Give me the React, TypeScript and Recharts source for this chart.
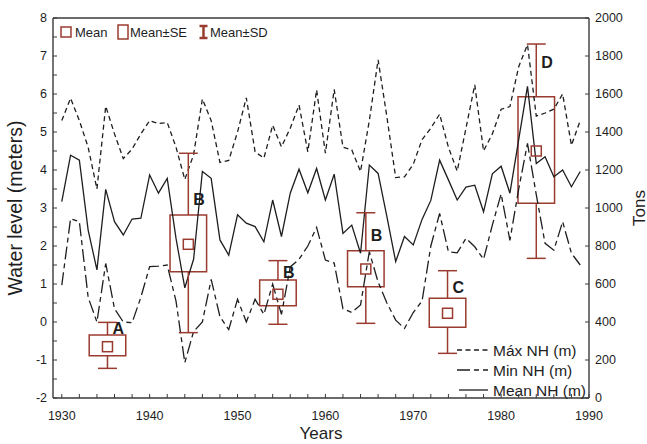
import React from 'react';
import {
  ComposedChart,
  Line,
  XAxis,
  YAxis,
  Scatter,
  ReferenceArea,
  ReferenceLine,
} from 'recharts';

const years = [
  1930, 1931, 1932, 1933, 1934, 1935, 1936, 1937, 1938, 1939,
  1940, 1941, 1942, 1943, 1944, 1945, 1946, 1947, 1948, 1949,
  1950, 1951, 1952, 1953, 1954, 1955, 1956, 1957, 1958, 1959,
  1960, 1961, 1962, 1963, 1964, 1965, 1966, 1967, 1968, 1969,
  1970, 1971, 1972, 1973, 1974, 1975, 1976, 1977, 1978, 1979,
  1980, 1981, 1982, 1983, 1984, 1985, 1986, 1987, 1988, 1989,
];

const maxNH = [
  5.3, 5.89, 5.3, 4.6, 3.5, 5.68, 4.95, 4.3, 4.55, 4.95,
  5.3, 5.22, 5.25, 4.6, 3.75, 4.4, 5.87, 5.3, 4.2, 4.25,
  5.0, 5.9, 4.48, 4.31, 5.18, 4.61, 5.1, 5.71, 4.48, 6.11,
  4.44, 6.12, 4.6, 4.53, 3.96, 5.3, 6.9, 5.4, 3.8, 3.82,
  4.15, 4.8, 5.1, 5.47, 4.6, 3.97, 5.1, 6.24, 4.5, 4.95,
  5.6, 5.67, 6.72, 7.3, 5.42, 5.5, 5.6, 6.0, 4.65, 5.3,
];

const minNH = [
  0.97, 2.72, 2.64, 0.65, 0.0, 1.54, 0.35, 0.0, -0.02, 0.65,
  1.46, 1.47, 1.5, 0.55, -1.07, -0.25, 0.0, 1.12, 0.14, -0.2,
  0.6, 0.0, 0.6, 0.2, 1.0, 0.2, 1.45, 1.65, 2.0, 2.49,
  1.63, 1.55, 0.35, 0.25, 0.45, 1.85, 1.05, 0.5, 0.05, -0.17,
  0.25, 0.55, 2.0, 2.86, 1.85, 1.82, 2.2, 1.98, 1.65, 2.55,
  3.37, 2.15, 3.5, 4.7, 3.35, 2.07, 1.89, 2.64, 1.81, 1.5,
];

const meanNH = [
  3.17, 4.39, 4.26, 2.42, 1.37, 3.49, 2.64, 2.29, 2.71, 2.73,
  3.87, 3.39, 3.78, 2.2, 0.9, 1.65, 3.96, 3.78, 2.16, 1.76,
  2.82, 2.6, 2.51, 2.11, 3.21, 2.25, 3.39, 4.02, 3.4, 4.04,
  3.21, 3.89, 2.33, 2.55, 1.81, 4.13, 3.91, 2.77, 1.59, 2.25,
  2.03, 2.7, 3.2, 4.26, 3.74, 3.21, 3.55, 3.6, 2.9, 3.9,
  4.1, 3.39, 4.8, 6.2, 4.17, 4.35, 3.82, 4.0, 3.56, 3.96,
];

// Box plots (Tons, right axis)
const boxYears = [1935.2, 1944.4, 1954.6, 1964.6, 1973.9, 1984.0];
const boxMean = [270, 809, 546, 679, 446, 1300];
const boxSELow = [223, 665, 486, 586, 372, 1025];
const boxSEHigh = [331, 963, 621, 775, 525, 1586];
const boxSDLow = [156, 344, 388, 393, 235, 735];
const boxSDHigh = [398, 1288, 723, 975, 670, 1863];
const groupLetters = ['A', 'B', 'B', 'B', 'C', 'D'];
const letterTons = [368, 1047, 665, 858, 584, 1768];

const xTicks = [
  1930, 1932, 1934, 1936, 1938, 1940, 1942, 1944, 1946, 1948, 1950,
  1952, 1954, 1956, 1958, 1960, 1962, 1964, 1966, 1968, 1970,
  1972, 1974, 1976, 1978, 1980, 1982, 1984, 1986, 1988, 1990,
];
const leftTicks = [-2, -1.5, -1, -0.5, 0, 0.5, 1, 1.5, 2, 2.5, 3, 3.5, 4, 4.5, 5, 5.5, 6, 6.5, 7, 7.5, 8];
const rightTicks = [0, 200, 400, 600, 800, 1000, 1200, 1400, 1600, 1800, 2000];

const lineData = years.map((y, i) => ({ year: y, max: maxNH[i], min: minNH[i], mean: meanNH[i] }));
const boxData = boxYears.map((y, i) => ({
  year: y,
  mean: boxMean[i],
  seLow: boxSELow[i],
  seHigh: boxSEHigh[i],
  sdLow: boxSDLow[i],
  sdHigh: boxSDHigh[i],
}));
const letterData = boxYears.map((y, i) => ({ year: y, tons: letterTons[i], letter: groupLetters[i] }));

const FONT = '"Liberation Sans", Arial, Helvetica, sans-serif';
const BROWN = '#9a3b30';
const INK = '#1e1e1e';
const AXIS = '#3a3a3a';
const BOX_HALF = 2.08; // years
const CAP_HALF = 1.08; // years

const MAX_DASH = '5 3.5';
const MIN_DASH = '13 4 5 4';

const LeftTitle = (props: any) => {
  const vb = props.viewBox || { x: 0, y: 18, width: 53, height: 380 };
  const cx = vb.x + 15;
  const cy = vb.y + vb.height / 2;
  return (
    <text x={cx} y={cy} transform={`rotate(-90 ${cx} ${cy})`} textAnchor="middle" dominantBaseline="central"
      fontFamily={FONT} fontSize={19.5} fill={INK}>
      Water level (meters)
    </text>
  );
};

const RightTitle = (props: any) => {
  const vb = props.viewBox || { x: 589, y: 18, width: 58, height: 380 };
  const cx = vb.x + 50;
  const cy = vb.y + vb.height / 2;
  return (
    <text x={cx} y={cy} transform={`rotate(-90 ${cx} ${cy})`} textAnchor="middle" dominantBaseline="central"
      fontFamily={FONT} fontSize={17} fill={INK}>
      Tons
    </text>
  );
};

const BottomTitle = (props: any) => {
  const vb = props.viewBox || { x: 53, y: 398, width: 536, height: 46 };
  const cx = vb.x + vb.width / 2;
  const cy = vb.y + 41;
  return (
    <text x={cx} y={cy} textAnchor="middle" fontFamily={FONT} fontSize={17} fill={INK}>
      Years
    </text>
  );
};

const MeanSquare = (p: any) => (
  <rect x={p.cx - 5} y={p.cy - 5} width={10} height={10} fill="none" stroke={BROWN} strokeWidth={1.5} />
);

const LetterShape = (p: any) => (
  <text x={p.cx + 5} y={p.cy + 6} fontFamily={FONT} fontSize={16} fontWeight="bold" fill={INK}>
    {p.payload.letter}
  </text>
);

export default function App() {
  return (
    <div style={{ position: 'absolute', left: 0, top: 0, width: 647, height: 444, background: '#fff' }}>
      <ComposedChart
        width={647}
        height={444}
        data={lineData}
        margin={{ top: 18, right: 0, bottom: 0, left: 0 }}
      >
        <XAxis
          dataKey="year"
          type="number"
          domain={[1929, 1990]}
          ticks={xTicks}
          interval={0}
          allowDataOverflow
          height={46}
          tickSize={-4}
          tickMargin={17}
          tickFormatter={(v: number) => (v % 10 === 0 ? String(v) : '')}
          tick={{ fontFamily: FONT, fontSize: 12.5, fill: INK }}
          axisLine={{ stroke: AXIS, strokeWidth: 1.4 }}
          tickLine={{ stroke: AXIS, strokeWidth: 1 }}
          label={BottomTitle}
        />
        <YAxis
          yAxisId="left"
          orientation="left"
          type="number"
          domain={[-2, 8]}
          ticks={leftTicks}
          interval={0}
          allowDataOverflow
          width={53}
          tickSize={-4}
          tickMargin={10}
          tickFormatter={(v: number) => (Number.isInteger(v) ? String(v) : '')}
          tick={{ fontFamily: FONT, fontSize: 12.5, fill: INK }}
          axisLine={{ stroke: AXIS, strokeWidth: 1.4 }}
          tickLine={{ stroke: AXIS, strokeWidth: 1 }}
          label={LeftTitle}
        />
        <YAxis
          yAxisId="right"
          orientation="right"
          type="number"
          domain={[0, 2000]}
          ticks={rightTicks}
          interval={0}
          allowDataOverflow
          width={58}
          tickSize={-4}
          tickMargin={10}
          tick={{ fontFamily: FONT, fontSize: 12.5, fill: INK }}
          axisLine={{ stroke: AXIS, strokeWidth: 1.4 }}
          tickLine={{ stroke: AXIS, strokeWidth: 1 }}
          label={RightTitle}
        />
        <ReferenceLine yAxisId="left" y={8} stroke={AXIS} strokeWidth={1.4} ifOverflow="visible" />

        <Line yAxisId="left" dataKey="max" stroke={INK} strokeWidth={1.3} strokeDasharray={MAX_DASH}
          dot={false} activeDot={false} isAnimationActive={false} />
        <Line yAxisId="left" dataKey="min" stroke={INK} strokeWidth={1.3} strokeDasharray={MIN_DASH}
          dot={false} activeDot={false} isAnimationActive={false} />
        <Line yAxisId="left" dataKey="mean" stroke={INK} strokeWidth={1.3}
          dot={false} activeDot={false} isAnimationActive={false} />

        {boxData.map((b, i) => (
          <ReferenceArea key={`se${i}`} yAxisId="right" x1={b.year - BOX_HALF} x2={b.year + BOX_HALF}
            y1={b.seLow} y2={b.seHigh} fill="none" fillOpacity={0} stroke={BROWN} strokeWidth={1.5}
            ifOverflow="visible" />
        ))}
        {boxData.map((b, i) => (
          <ReferenceLine key={`wu${i}`} yAxisId="right" segment={[{ x: b.year, y: b.seHigh }, { x: b.year, y: b.sdHigh }]}
            stroke={BROWN} strokeWidth={1.5} ifOverflow="visible" />
        ))}
        {boxData.map((b, i) => (
          <ReferenceLine key={`wl${i}`} yAxisId="right" segment={[{ x: b.year, y: b.seLow }, { x: b.year, y: b.sdLow }]}
            stroke={BROWN} strokeWidth={1.5} ifOverflow="visible" />
        ))}
        {boxData.map((b, i) => (
          <ReferenceLine key={`cu${i}`} yAxisId="right"
            segment={[{ x: b.year - CAP_HALF, y: b.sdHigh }, { x: b.year + CAP_HALF, y: b.sdHigh }]}
            stroke={BROWN} strokeWidth={1.5} ifOverflow="visible" />
        ))}
        {boxData.map((b, i) => (
          <ReferenceLine key={`cl${i}`} yAxisId="right"
            segment={[{ x: b.year - CAP_HALF, y: b.sdLow }, { x: b.year + CAP_HALF, y: b.sdLow }]}
            stroke={BROWN} strokeWidth={1.5} ifOverflow="visible" />
        ))}

        <Scatter yAxisId="right" data={boxData} dataKey="mean" shape={MeanSquare} isAnimationActive={false} />
        <Scatter yAxisId="right" data={letterData} dataKey="tons" shape={LetterShape} isAnimationActive={false} />
      </ComposedChart>

      <svg width={647} height={444} style={{ position: 'absolute', left: 0, top: 0, pointerEvents: 'none' }}>
        <g fontFamily={FONT} fill={INK}>
          <rect x={61} y={27} width={10} height={10} fill="none" stroke={BROWN} strokeWidth={1.5} />
          <text x={75} y={32} fontSize={13} dominantBaseline="central">Mean</text>
          <rect x={118} y={25} width={10} height={14} fill="none" stroke={BROWN} strokeWidth={1.5} />
          <text x={130} y={32} fontSize={13} dominantBaseline="central">Mean±SE</text>
          <line x1={203.5} y1={26} x2={203.5} y2={38} stroke={BROWN} strokeWidth={2.5} />
          <line x1={199.5} y1={26} x2={207.5} y2={26} stroke={BROWN} strokeWidth={2.5} />
          <line x1={199.5} y1={38} x2={207.5} y2={38} stroke={BROWN} strokeWidth={2.5} />
          <text x={210} y={32} fontSize={13} dominantBaseline="central">Mean±SD</text>

          <line x1={457} y1={350} x2={488} y2={350} stroke={INK} strokeWidth={1.3} strokeDasharray={MAX_DASH} />
          <text x={493} y={350} fontSize={15.5} dominantBaseline="central">Máx NH (m)</text>
          <line x1={457} y1={370} x2={488} y2={370} stroke={INK} strokeWidth={1.3} strokeDasharray={MIN_DASH} />
          <text x={493} y={370} fontSize={15.5} dominantBaseline="central">Min NH (m)</text>
          <line x1={459} y1={390} x2={488} y2={390} stroke={INK} strokeWidth={1.3} />
          <text x={493} y={390} fontSize={15.5} dominantBaseline="central">Mean NH (m)</text>
        </g>
      </svg>
    </div>
  );
}
